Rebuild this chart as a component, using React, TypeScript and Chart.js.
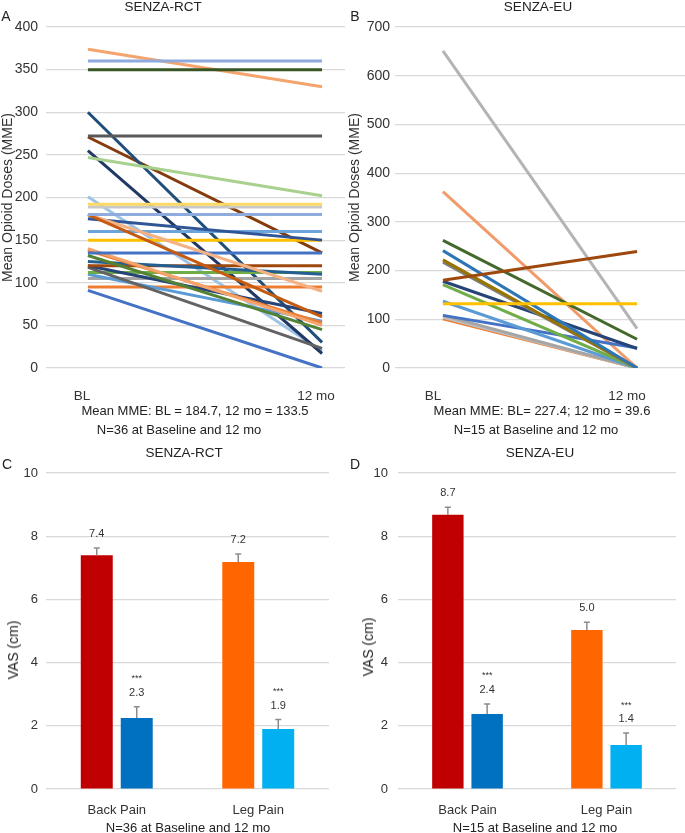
import React, { useEffect, useRef } from 'react';
import { Chart, registerables } from 'chart.js';

Chart.register(...registerables);

const FONT = "'Liberation Sans', Arial, sans-serif";
Chart.defaults.font.family = FONT;

// ---------- Panel A / B: opioid doses ----------
const TIMEPOINTS = ['BL', '12 mo'];

const RCT_BL = [360, 350, 272, 247, 192, 189, 180, 180, 180, 175, 160, 150, 135, 140, 138, 132, 125, 120, 120, 118, 112, 110, 105, 95, 91, 300, 255, 271, 201, 374];
const RCT_12 = [360, 350, 272, 202, 192, 189, 180, 60, 90, 150, 160, 150, 135, 50, 53, 45, 110, 120, 64, 23, 112, 55, 105, 95, 0, 30, 17, 135, 20, 330];
const RCT_COLORS = ['#8FAADC', '#375623', '#595959', '#A9D18E', '#FFD966', '#C9C9C9', '#8FAADC', '#C55A11', '#F4B183', '#2F5597', '#6AA4DA', '#FFC000', '#4472C4', '#F4A46C', '#ED7D31', '#548235', '#255E91', '#9E480E', '#264478', '#636363', '#70AD47', '#5B9BD5', '#A5A5A5', '#ED7D31', '#4472C4', '#1F4E79', '#203864', '#843C0C', '#9DC3E6', '#F4A46C'];

const EU_BL = [132, 180, 262, 241, 222, 217, 178, 171, 137, 108, 108, 104, 101, 362, 651];
const EU_12 = [132, 239, 59, 0, 0, 0, 40, 0, 0, 41, 0, 0, 0, 0, 81];
const EU_COLORS = ['#FFC000', '#9E480E', '#43682B', '#2E75B6', '#997300', '#7F7F7F', '#264478', '#70AD47', '#5B9BD5', '#4472C4', '#A5A5A5', '#BFBFBF', '#ED7D31', '#F19A6A', '#B4B4B4'];

// ---------- Panel C / D: VAS ----------
const PAIN_CATS = ['Back Pain', 'Leg Pain'];
const SERIES_NAMES = ['Baseline', '12 mo'];
const BASE_COLORS = ['#C00000', '#FF6600'];
const M12_COLORS = ['#0070C0', '#00B0F0'];
const SIG = ['', '***'];

const RCT_VAS_BL = [7.4, 7.18];
const RCT_VAS_BL_ERR = [0.23, 0.26];
const RCT_VAS_12 = [2.25, 1.9];
const RCT_VAS_12_ERR = [0.35, 0.3];

const EU_VAS_BL = [8.68, 5.03];
const EU_VAS_BL_ERR = [0.24, 0.25];
const EU_VAS_12 = [2.37, 1.39];
const EU_VAS_12_ERR = [0.32, 0.38];

const TICK_COLOR = '#333333';
const GRID_COLOR = '#D9D9D9';

function lineConfig(bl: number[], m12: number[], colors: string[], yMax: number, step: number, xMin: number, xMax: number, yWidth: number, tickPad: number, titlePad: number, labelOffset: number) {
  return {
    type: 'line',
    data: {
      datasets: bl.map((b, i) => ({
        data: [{ x: 0, y: b }, { x: 1, y: m12[i] }],
        borderColor: colors[i],
        borderWidth: 3,
        pointRadius: 0,
        fill: false,
        tension: 0,
      })),
    },
    options: {
      responsive: false,
      animation: false,
      layout: { padding: { top: 27, right: 0, bottom: 0, left: 0 } },
      plugins: { legend: { display: false }, tooltip: { enabled: false } },
      scales: {
        x: {
          type: 'linear',
          min: xMin,
          max: xMax,
          grid: { display: true, drawOnChartArea: false, drawTicks: true, tickLength: 20, color: 'rgba(0,0,0,0)' },
          border: { display: false },
          afterBuildTicks: (s: any) => { s.ticks = [{ value: 0 }, { value: 1 }]; },
          afterFit: (s: any) => { s.height = 37; },
          ticks: {
            callback: (v: any) => TIMEPOINTS[v as number] ?? '',
            font: { size: 13.5, family: FONT },
            color: TICK_COLOR,
            padding: 0,
            labelOffset,
            maxRotation: 0,
          },
        },
        y: {
          min: 0,
          max: yMax,
          grid: { color: GRID_COLOR, drawTicks: false, lineWidth: 1.2 },
          border: { display: false },
          afterFit: (s: any) => { s.width = yWidth; },
          ticks: { stepSize: step, padding: tickPad, font: { size: 14, family: FONT }, color: TICK_COLOR },
          title: { display: true, text: 'Mean Opioid Doses (MME)', font: { size: 14, family: FONT }, color: TICK_COLOR, padding: { top: titlePad, bottom: 0 } },
        },
      },
    },
  } as any;
}

function barConfig(bl: number[], blErr: number[], m12: number[], m12Err: number[], yWidth: number, tickPad: number, padRight: number) {
  const errs = [blErr, m12Err];
  const extras = {
    id: 'barExtras',
    afterDatasetsDraw(chart: any) {
      const ctx = chart.ctx;
      const ys = chart.scales.y;
      chart.data.datasets.forEach((ds: any, di: number) => {
        const meta = chart.getDatasetMeta(di);
        meta.data.forEach((bar: any, i: number) => {
          const v = ds.data[i] as number;
          const top = ys.getPixelForValue(v + errs[di][i]);
          ctx.save();
          ctx.strokeStyle = '#8C8C8C';
          ctx.lineWidth = 1.5;
          ctx.beginPath();
          ctx.moveTo(bar.x, bar.y);
          ctx.lineTo(bar.x, top);
          ctx.moveTo(bar.x - 3, top);
          ctx.lineTo(bar.x + 3, top);
          ctx.stroke();
          ctx.fillStyle = '#333333';
          ctx.textAlign = 'center';
          ctx.textBaseline = 'middle';
          ctx.font = `11px ${FONT}`;
          ctx.fillText(v.toFixed(1), bar.x, top - 14);
          if (SIG[di]) {
            ctx.font = `9px ${FONT}`;
            ctx.fillText(SIG[di], bar.x, top - 28);
          }
          ctx.restore();
        });
      });
    },
  };
  return {
    type: 'bar',
    data: {
      labels: PAIN_CATS,
      datasets: [
        { label: SERIES_NAMES[0], data: bl, backgroundColor: BASE_COLORS, categoryPercentage: 0.565, barPercentage: 0.8 },
        { label: SERIES_NAMES[1], data: m12, backgroundColor: M12_COLORS, categoryPercentage: 0.565, barPercentage: 0.8 },
      ],
    },
    options: {
      responsive: false,
      animation: false,
      layout: { padding: { top: 33, right: padRight, bottom: 0, left: 0 } },
      plugins: { legend: { display: false }, tooltip: { enabled: false } },
      scales: {
        x: {
          grid: { display: false, drawTicks: false },
          border: { display: false },
          afterFit: (s: any) => { s.height = 31; },
          ticks: { font: { size: 13, family: FONT }, color: TICK_COLOR, padding: 14, maxRotation: 0 },
        },
        y: {
          min: 0,
          max: 10,
          grid: { color: GRID_COLOR, drawTicks: false, lineWidth: 1.2 },
          border: { display: false },
          afterFit: (s: any) => { s.width = yWidth; },
          ticks: { stepSize: 2, padding: tickPad, font: { size: 13, family: FONT }, color: TICK_COLOR },
        },
      },
    },
    plugins: [extras],
  } as any;
}

function ChartCanvas({ config, left, top, width, height }: { config: any; left: number; top: number; width: number; height: number }) {
  const ref = useRef<HTMLCanvasElement>(null);
  useEffect(() => {
    const chart = new Chart(ref.current as HTMLCanvasElement, config);
    return () => chart.destroy();
  }, []);
  return <canvas ref={ref} width={width} height={height} style={{ position: 'absolute', left, top, width, height }} />;
}

function Txt({ x, y, size = 13.5, rotate = false, children }: { x: number; y: number; size?: number; rotate?: boolean; children: React.ReactNode }) {
  return (
    <div
      style={{
        position: 'absolute',
        left: x,
        top: y,
        transform: `translate(-50%, -50%)${rotate ? ' rotate(-90deg)' : ''}`,
        whiteSpace: 'nowrap',
        fontFamily: FONT,
        fontSize: size,
        color: '#222',
        lineHeight: 1,
      }}
    >
      {children}
    </div>
  );
}

export default function App() {
  const cfgA = lineConfig(RCT_BL, RCT_12, RCT_COLORS, 400, 50, -0.179, 1.098, 46, 8, 0, -6);
  const cfgB = lineConfig(EU_BL, EU_12, EU_COLORS, 700, 100, -0.247, 1.247, 50, 5, 1.6, -10);
  const cfgC = barConfig(RCT_VAS_BL, RCT_VAS_BL_ERR, RCT_VAS_12, RCT_VAS_12_ERR, 46, 8, 16);
  const cfgD = barConfig(EU_VAS_BL, EU_VAS_BL_ERR, EU_VAS_12, EU_VAS_12_ERR, 53, 10, 9);
  return (
    <div style={{ position: 'absolute', left: 0, top: 0, width: 685, height: 833, background: '#fff', overflow: 'hidden' }}>
      <ChartCanvas config={cfgA} left={0} top={0} width={345} height={405} />
      <ChartCanvas config={cfgB} left={345} top={0} width={340} height={405} />
      <ChartCanvas config={cfgC} left={0} top={440} width={345} height={380} />
      <ChartCanvas config={cfgD} left={345} top={440} width={340} height={380} />

      <Txt x={6} y={16} size={14}>A</Txt>
      <Txt x={163} y={7}>SENZA-RCT</Txt>
      <Txt x={195} y={410} size={13}>Mean MME: BL = 184.7, 12 mo = 133.5</Txt>
      <Txt x={179} y={429} size={13}>N=36 at Baseline and 12 mo</Txt>

      <Txt x={355} y={16} size={14}>B</Txt>
      <Txt x={538} y={7}>SENZA-EU</Txt>
      <Txt x={542} y={410} size={13}>Mean MME: BL= 227.4; 12 mo = 39.6</Txt>
      <Txt x={536} y={429} size={13}>N=15 at Baseline and 12 mo</Txt>

      <Txt x={7} y={464} size={14}>C</Txt>
      <Txt x={184} y={453}>SENZA-RCT</Txt>
      <Txt x={13} y={650} size={14} rotate>VAS (cm)</Txt>
      <Txt x={188} y={827} size={13}>N=36 at Baseline and 12 mo</Txt>

      <Txt x={355} y={464} size={14}>D</Txt>
      <Txt x={540} y={453}>SENZA-EU</Txt>
      <Txt x={368} y={647} size={14} rotate>VAS (cm)</Txt>
      <Txt x={535} y={827} size={13}>N=15 at Baseline and 12 mo</Txt>
    </div>
  );
}
